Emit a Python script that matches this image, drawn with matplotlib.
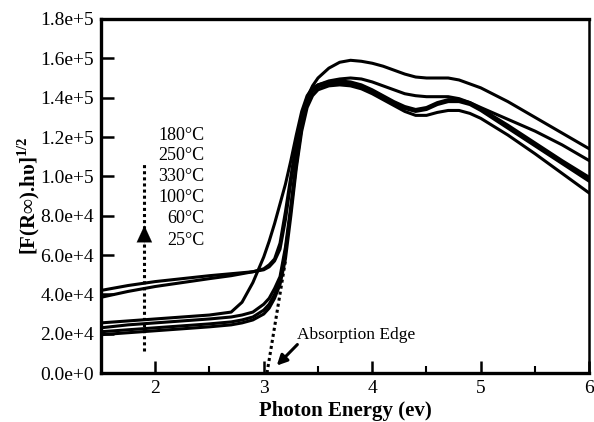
import matplotlib
matplotlib.use("Agg")
import matplotlib.pyplot as plt

plt.rcParams['font.family'] = ['Liberation Serif', 'DejaVu Serif']
plt.rcParams['mathtext.fontset'] = 'custom'
plt.rcParams['mathtext.rm'] = 'Liberation Serif'
plt.rcParams['mathtext.bf'] = 'Liberation Serif:bold'

# Photon energy grid (eV)
energy = [1.5, 1.75, 2.0, 2.25, 2.5, 2.7, 2.8, 2.9, 3.0, 3.05, 3.1, 3.15, 3.2, 3.25,
          3.3, 3.35, 3.4, 3.45, 3.5, 3.6, 3.7, 3.8, 3.9, 4.0, 4.1, 4.2, 4.3, 4.4,
          4.5, 4.6, 4.7, 4.8, 4.9, 5.0, 5.25, 5.5, 5.75, 6.0]

curve_a = [42e3, 44.5e3, 46.5e3, 48e3, 49.5e3, 50.5e3, 51e3, 51.5e3, 52.5e3, 54e3, 57e3, 63e3, 78e3, 97e3,
           115e3, 130e3, 140e3, 146e3, 150e3, 155e3, 158e3, 159e3, 158.5e3, 157.5e3, 156e3, 154e3, 152e3, 150.5e3,
           150e3, 150e3, 150e3, 149e3, 147e3, 145e3, 138e3, 130e3, 122e3, 114e3]
curve_b = [38.5e3, 41.5e3, 44e3, 46e3, 48e3, 49.5e3, 50.5e3, 51.5e3, 53e3, 55e3, 58e3, 66e3, 82e3, 100e3,
           117e3, 131e3, 140e3, 144e3, 146.5e3, 148.5e3, 149.5e3, 150e3, 149.5e3, 148e3, 146e3, 144e3, 142e3, 141e3,
           140.5e3, 140.5e3, 140.5e3, 139.5e3, 137.5e3, 135e3, 129e3, 123e3, 116e3, 108e3]
curve_c = [25.5e3, 26.5e3, 27.5e3, 28.5e3, 29.5e3, 31e3, 36e3, 46e3, 59e3, 67e3, 76e3, 86e3, 96e3, 108e3,
           121e3, 133e3, 141e3, 145e3, 146.5e3, 148e3, 148.5e3, 148e3, 146.5e3, 144e3, 141e3, 138e3, 135.5e3, 134e3,
           135e3, 137.5e3, 139e3, 139e3, 137.5e3, 134.5e3, 126e3, 117e3, 108e3, 99.5e3]
curve_d = [23e3, 24.5e3, 25.5e3, 26.5e3, 27.5e3, 28.5e3, 29.5e3, 31e3, 35e3, 38e3, 43e3, 49e3, 64e3, 85e3,
           108e3, 126e3, 138e3, 144e3, 146e3, 147.5e3, 148e3, 147.5e3, 146e3, 143.5e3, 140.5e3, 137.5e3, 135e3, 133.5e3,
           134.5e3, 137e3, 138.5e3, 138.5e3, 137e3, 134e3, 125e3, 116e3, 107e3, 98.5e3]
curve_e = [21e3, 22e3, 23e3, 24e3, 25e3, 26e3, 27e3, 28.5e3, 32e3, 35e3, 40e3, 47e3, 62e3, 83e3,
           106e3, 125e3, 137e3, 143e3, 145.5e3, 147e3, 147.5e3, 147e3, 145.5e3, 143e3, 140e3, 137e3, 134.5e3, 133e3,
           134e3, 136.5e3, 138e3, 138e3, 136.5e3, 133.5e3, 124.5e3, 115.5e3, 106.5e3, 97.5e3]
curve_f = [19.5e3, 20.5e3, 21.5e3, 22.5e3, 23.5e3, 24.5e3, 25.5e3, 27e3, 30e3, 33e3, 38e3, 45e3, 58e3, 80e3,
           104e3, 123e3, 135e3, 141e3, 144e3, 146e3, 146.5e3, 146e3, 144.5e3, 142e3, 139e3, 136e3, 133e3, 131e3,
           131e3, 132.5e3, 133.5e3, 133.5e3, 132e3, 129.5e3, 121e3, 111.5e3, 101.5e3, 91.5e3]

temps = ['180°C', '250°C', '330°C', '100°C', '60°C', '25°C']
temp_y = [1.21e5, 1.105e5, 1.0e5, 0.895e5, 0.785e5, 0.675e5]

y_ticks = [0, 2e4, 4e4, 6e4, 8e4, 1e5, 1.2e5, 1.4e5, 1.6e5, 1.8e5]
y_tick_labels = ['0.0e+0', '2.0e+4', '4.0e+4', '6.0e+4', '8.0e+4', '1.0e+5',
                 '1.2e+5', '1.4e+5', '1.6e+5', '1.8e+5']
x_ticks = [2, 3, 4, 5, 6]

fig = plt.figure(figsize=(5.94, 4.22), dpi=100)
ax = fig.add_axes([0.170, 0.116, 0.822, 0.839])

for c in [curve_a, curve_b, curve_c, curve_d, curve_e, curve_f]:
    ax.plot(energy, c, color='black', lw=2.2, solid_joinstyle='round', solid_capstyle='round')

# absorption edge extrapolation (dotted)
ax.plot([3.03, 3.2], [0, 5.7e4], color='black', lw=2.2, linestyle=(0, (1, 1)))

# dotted temperature arrow
ax.plot([1.9, 1.9], [1.1e4, 1.07e5], color='black', lw=2.2, linestyle=(0, (1, 1)))
ax.annotate('', xy=(1.9, 7.5e4), xytext=(1.9, 6.5e4),
            arrowprops=dict(arrowstyle='-|>,head_length=1.2,head_width=0.55',
                            color='black', lw=0.1, shrinkA=0, shrinkB=0))

for t, yv in zip(temps, temp_y):
    ax.text(2.45, yv, t, ha='right', va='center', fontsize=13)

ax.text(3.31, 1.95e4, 'Absorption Edge', fontsize=12.5, ha='left', va='center')
ax.annotate('', xy=(3.12, 3.8e3), xytext=(3.31, 1.45e4),
            arrowprops=dict(arrowstyle='-|>,head_length=0.6,head_width=0.3',
                            color='black', lw=2.2, shrinkA=0, shrinkB=0))

ax.set_xlim(1.5, 6.0)
ax.set_ylim(0, 1.8e5)
ax.set_xticks(x_ticks)
ax.set_xticks([2.5, 3.5, 4.5, 5.5], minor=True)
ax.set_yticks(y_ticks)
ax.set_yticklabels(y_tick_labels)
ax.tick_params(axis='both', which='major', direction='in', length=9, width=1.8,
               labelsize=14, pad=5)
ax.tick_params(axis='x', which='minor', direction='in', length=5, width=1.5)
ax.tick_params(axis='both', top=False, right=False)

for s in ['left', 'bottom', 'top']:
    ax.spines[s].set_linewidth(2.4)
ax.spines['right'].set_linewidth(1.8)

ax.set_xlabel('Photon Energy (ev)', fontsize=15, fontweight='bold', labelpad=3)
ax.set_ylabel(r'[F(R∞).hυ]$^{\mathbf{1/2}}$', fontsize=15, fontweight='bold', labelpad=-1)

fig.savefig('out.png', dpi=100)
